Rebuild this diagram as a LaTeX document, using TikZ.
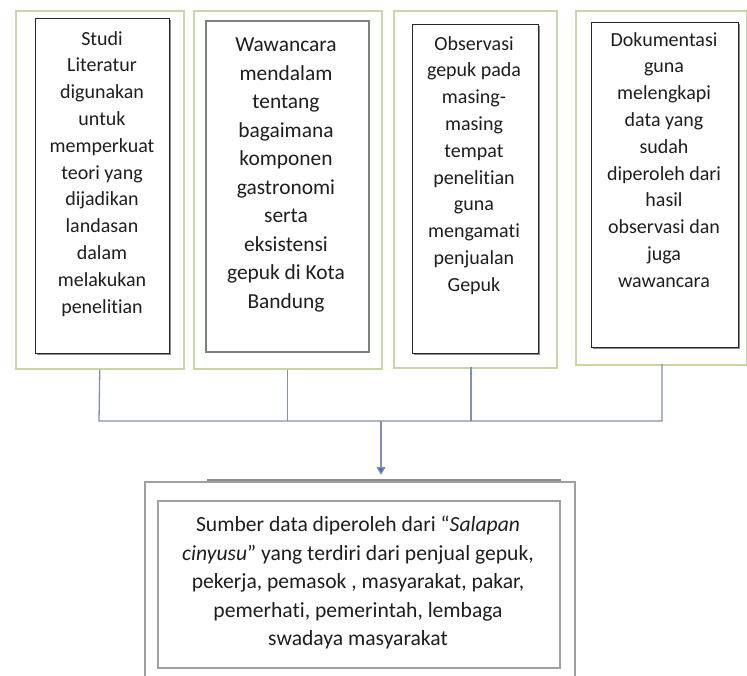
\documentclass[tikz,border=0pt]{standalone}
\usepackage{fontspec}
\setmainfont{Carlito}[Ligatures={NoCommon}]
\usetikzlibrary{arrows.meta,shadows}
\definecolor{olv}{RGB}{198,214,166}
\definecolor{shd}{RGB}{140,140,140}
\definecolor{cnct}{RGB}{128,145,175}
\definecolor{arrb}{RGB}{72,100,185}
\definecolor{txt}{RGB}{30,30,30}
\definecolor{gbox}{RGB}{160,160,160}
\begin{document}
\begin{tikzpicture}[x=1pt,y=-1pt,
  outerbox/.style={draw=olv,line width=1.5pt,fill=white,anchor=north west,inner sep=0pt},
  innerbox/.style={draw=black!85,line width=1.4pt,fill=white,anchor=north west,inner sep=0pt,
    drop shadow={shadow xshift=1.6pt,shadow yshift=-1.6pt,fill=shd,opacity=1}},
  grayinner/.style={draw=gbox,line width=1.6pt,fill=white,anchor=north west,inner sep=0pt,
    drop shadow={shadow xshift=1.5pt,shadow yshift=-1.5pt,fill=black!55,opacity=1}},
  lbl/.style={anchor=north,align=center,inner sep=0pt,text=txt},
  smallf/.style={font=\fontsize{20}{26.8}\selectfont},
  bigf/.style={font=\fontsize{21.4}{28.5}\selectfont},
  conn/.style={draw=cnct,line width=1.3pt}
]
\useasboundingbox (0,0) rectangle (747,675);
\fill[white] (0,0) rectangle (747,675);

% outer boxes
\node[outerbox,minimum width=168pt,minimum height=358pt] (o1) at (15,10) {};
\node[outerbox,minimum width=188pt,minimum height=358pt] (o2) at (193,10) {};
\node[outerbox,minimum width=163pt,minimum height=357pt] (o3) at (393,10) {};
\node[outerbox,minimum width=171pt,minimum height=354pt] (o4) at (575,10) {};

% inner boxes
\node[innerbox,minimum width=134pt,minimum height=335pt] (i1) at (35,18) {};
\node[grayinner,draw=black!50,minimum width=163pt,minimum height=331pt] (i2) at (205,20) {};
\node[innerbox,minimum width=126pt,minimum height=329pt] (i3) at (412,24) {};
\node[innerbox,minimum width=147pt,minimum height=325pt] (i4) at (591,22) {};

% texts
\node[lbl,smallf] (t1) at (102,31) {Studi\\Literatur\\digunakan\\untuk\\memperkuat\\teori yang\\dijadikan\\landasan\\dalam\\melakukan\\penelitian};
\node[lbl,bigf] (t2) at (286,38) {Wawancara\\mendalam\\tentang\\bagaimana\\komponen\\gastronomi\\serta\\eksistensi\\gepuk di Kota\\Bandung};
\node[lbl,smallf] (t3) at (474,36) {Observasi\\gepuk pada\\masing-\\masing\\tempat\\penelitian\\guna\\mengamati\\penjualan\\Gepuk};
\node[lbl,smallf] (t4) at (664,32) {Dokumentasi\\guna\\melengkapi\\data yang\\sudah\\diperoleh dari\\hasil\\observasi dan\\juga\\wawancara};

% bottom boxes
\node[draw=gbox,line width=1.8pt,fill=white,anchor=north west,inner sep=0pt,
  minimum width=430pt,minimum height=230pt] (bo) at (144,481) {};
\draw[black!45,line width=1.6pt] (207,480) -- (561,480);
\node[grayinner,minimum width=402pt,minimum height=167pt] (bi) at (157,500) {};
\node[lbl,font=\fontsize{21.6}{28.5}\selectfont] (t5) at (358,516)
  {Sumber data diperoleh dari “\textit{Salapan}\\\textit{cinyusu}” yang terdiri dari penjual gepuk,\\pekerja, pemasok , masyarakat, pakar,\\pemerhati, pemerintah, lembaga\\swadaya masyarakat};

% connectors
\coordinate (jL) at (99,421);
\coordinate (jR) at (662,421);
\coordinate (jA) at (381,421);
\coordinate (c3) at (471,367);
\coordinate (c4) at (662,364);
\draw[conn] (o1.south) -- (jL) -- (jR) -- (c4);
\draw[conn] (o2.south) -- (o2.south |- jL);
\draw[conn] (c3) -- (c3 |- jL);
\draw[conn,-{Triangle[length=8pt,width=9pt,fill=arrb]}] (jA) -- ([yshift=6pt]jA |- bo.north);
\end{tikzpicture}
\end{document}
